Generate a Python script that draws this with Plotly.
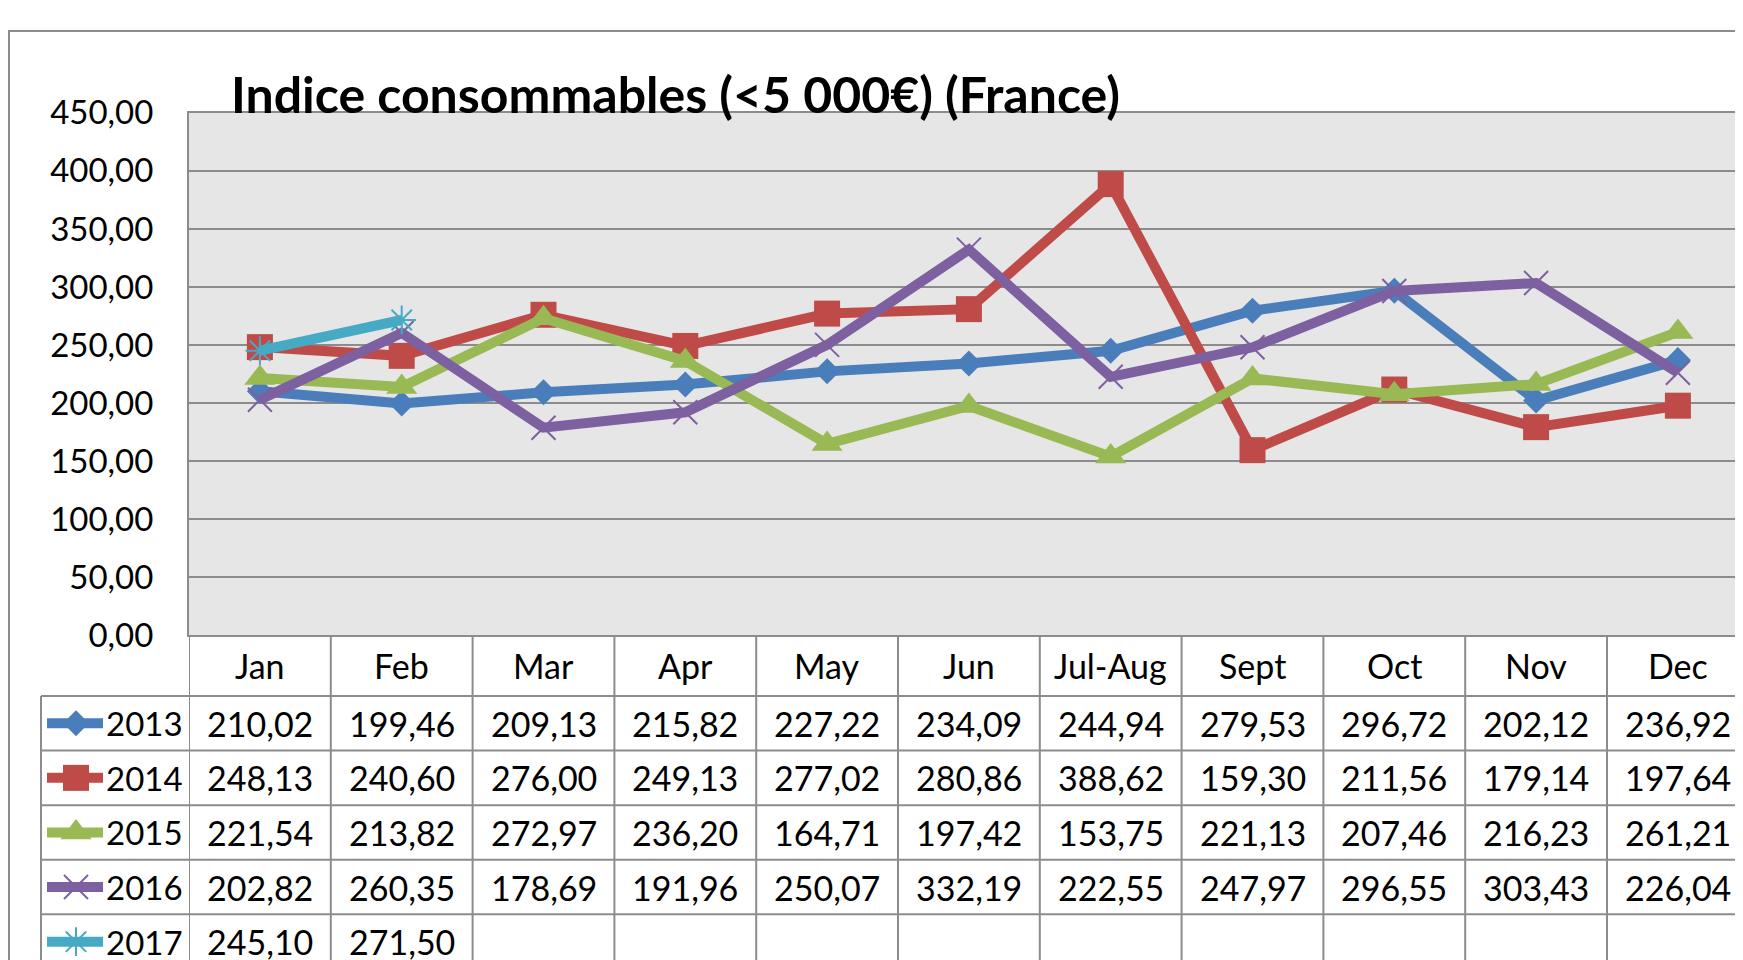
import plotly.graph_objects as go

months = ["Jan", "Feb", "Mar", "Apr", "May", "Jun", "Jul-Aug", "Sept", "Oct", "Nov", "Dec"]
years = ["2013", "2014", "2015", "2016", "2017"]
v2013 = [210.02, 199.46, 209.13, 215.82, 227.22, 234.09, 244.94, 279.53, 296.72, 202.12, 236.92]
v2014 = [248.13, 240.60, 276.00, 249.13, 277.02, 280.86, 388.62, 159.30, 211.56, 179.14, 197.64]
v2015 = [221.54, 213.82, 272.97, 236.20, 164.71, 197.42, 153.75, 221.13, 207.46, 216.23, 261.21]
v2016 = [202.82, 260.35, 178.69, 191.96, 250.07, 332.19, 222.55, 247.97, 296.55, 303.43, 226.04]
v2017 = [245.10, 271.50]
series = [v2013, v2014, v2015, v2016, v2017]
colors = ["#4A7EBB", "#BE4B48", "#98B954", "#7D60A0", "#46AAC5"]
symbols = ["diamond", "square", "triangle-up", "x-thin", "asterisk-open"]
msizes = [20, 26, 27, 24, 24]
title = "Indice consommables (<5 000€) (France)"

OFF = 8                       # browser body margin
W, H = 1735, 972
FONT = "Lato"
GRID = "#8C8C8C"
# vertical screen mapping observed: screen_y = YA + YK * page_y
YA, YK = 20.4, 0.9588
# target positions in screen pixels
PL, PT, PB = 189, 112, 634
COLW = 141.8
ROW0, ROWH = 695, 54.6
LEGL = 41
BOT = 975


def py(s):  # screen pixel y -> paper
    set_y = (s - YA) / YK - OFF
    return (H - set_y) / H


def px(p):  # screen pixel x -> paper
    return (p - OFF) / W


def sy_inv(s):  # screen y -> page-space y used by overlay axis
    return (s - YA) / YK


fig = go.Figure()

for name, vals, c, s, ms in zip(years, series, colors, symbols, msizes):
    open_sym = s in ("x-thin", "asterisk-open")
    fig.add_trace(go.Scatter(
        x=months[:len(vals)], y=vals, name=name, mode="lines+markers",
        line=dict(color=c, width=10),
        marker=dict(symbol=s, size=ms, color=c,
                    line=dict(color=c, width=2 if open_sym else 0)),
        showlegend=False, xaxis="x", yaxis="y"))

# legend glyphs inside the table's first column
for k, (name, c, s, ms) in enumerate(zip(years, colors, symbols, msizes)):
    yc = sy_inv(ROW0 + ROWH * (k + 0.5))
    open_sym = s in ("x-thin", "asterisk-open")
    fig.add_trace(go.Scatter(
        x=[47, 103], y=[yc, yc], mode="lines",
        line=dict(color=c, width=10),
        showlegend=False, xaxis="x2", yaxis="y2", hoverinfo="skip"))
    fig.add_trace(go.Scatter(
        x=[76], y=[yc], mode="markers",
        marker=dict(symbol=s, size=ms, color=c,
                    line=dict(color=c, width=2 if open_sym else 0)),
        showlegend=False, xaxis="x2", yaxis="y2", hoverinfo="skip"))

shapes = []
shapes.append(dict(type="rect", xref="x domain", yref="y domain", x0=0, x1=1, y0=0, y1=1,
                   fillcolor="#E6E6E6", line=dict(width=0), layer="below"))
shapes.append(dict(type="path", xref="paper", yref="paper",
                   path=f"M {px(9)} {py(BOT)} L {px(9)} {py(30)} L {px(1760)} {py(30)}",
                   line=dict(color=GRID, width=2)))
for i in range(len(months)):
    shapes.append(dict(type="line", xref="x", yref="paper", x0=i + 0.5, x1=i + 0.5,
                       y0=py(PB), y1=py(BOT), line=dict(color=GRID, width=2)))
shapes.append(dict(type="line", xref="x", yref="paper", x0=-0.5, x1=-0.5,
                   y0=py(PB), y1=py(BOT), line=dict(color=GRID, width=2)))
shapes.append(dict(type="line", xref="paper", yref="paper", x0=px(LEGL), x1=px(LEGL),
                   y0=py(ROW0), y1=py(BOT), line=dict(color=GRID, width=2)))
for k in range(len(years)):
    yy = ROW0 + ROWH * k
    shapes.append(dict(type="line", xref="paper", yref="paper", x0=px(LEGL), x1=px(1760),
                       y0=py(yy), y1=py(yy), line=dict(color=GRID, width=2)))

annotations = []
annotations.append(dict(text=f"<b>{title}</b>", xref="paper", yref="paper",
                        x=px(229), y=py(93), xanchor="left", yanchor="middle",
                        showarrow=False, font=dict(family=FONT, size=50, color="black")))
for m in months:
    annotations.append(dict(text=m, xref="x", yref="paper", x=m, y=py(665),
                            xanchor="center", yanchor="middle", showarrow=False,
                            font=dict(family=FONT, size=34, color="black")))
for k, (name, vals) in enumerate(zip(years, series)):
    yc = ROW0 + ROWH * (k + 0.5)
    annotations.append(dict(text=name, xref="paper", yref="paper", x=px(104), y=py(yc),
                            xanchor="left", yanchor="middle", showarrow=False,
                            font=dict(family=FONT, size=33, color="black")))
    for m, v in zip(months, vals):
        annotations.append(dict(text=f"{v:.2f}".replace(".", ","), xref="x", yref="paper",
                                x=m, y=py(yc), xanchor="center", yanchor="middle",
                                showarrow=False,
                                font=dict(family=FONT, size=34, color="black")))

fig.update_layout(
    width=W, height=H, autosize=False,
    margin=dict(l=0, r=0, t=0, b=0),
    paper_bgcolor="white", plot_bgcolor="rgba(0,0,0,0)",
    separators=", ",
    font=dict(family=FONT, color="black"),
    xaxis=dict(type="category", categoryorder="array", categoryarray=months,
               domain=[px(PL), 1], range=[-0.5, -0.5 + (OFF + W - PL) / COLW],
               showgrid=False, showticklabels=False, zeroline=False,
               showline=True, mirror=True, linecolor=GRID, linewidth=2, fixedrange=True),
    yaxis=dict(domain=[py(PB), py(PT)], range=[0, 450], dtick=50, tick0=0,
               tickformat=".2f", showgrid=True, gridcolor=GRID, gridwidth=2,
               zeroline=False, showline=True, linecolor=GRID, linewidth=2,
               ticks="", ticklabelstandoff=27,
               tickfont=dict(family=FONT, size=33, color="black"), fixedrange=True),
    xaxis2=dict(domain=[0, 1], range=[OFF, OFF + W], visible=False, anchor="y2", fixedrange=True),
    yaxis2=dict(domain=[0, 1], range=[OFF + H, OFF], visible=False, anchor="x2", fixedrange=True),
    shapes=shapes, annotations=annotations,
)

fig.write_html("out.html")
